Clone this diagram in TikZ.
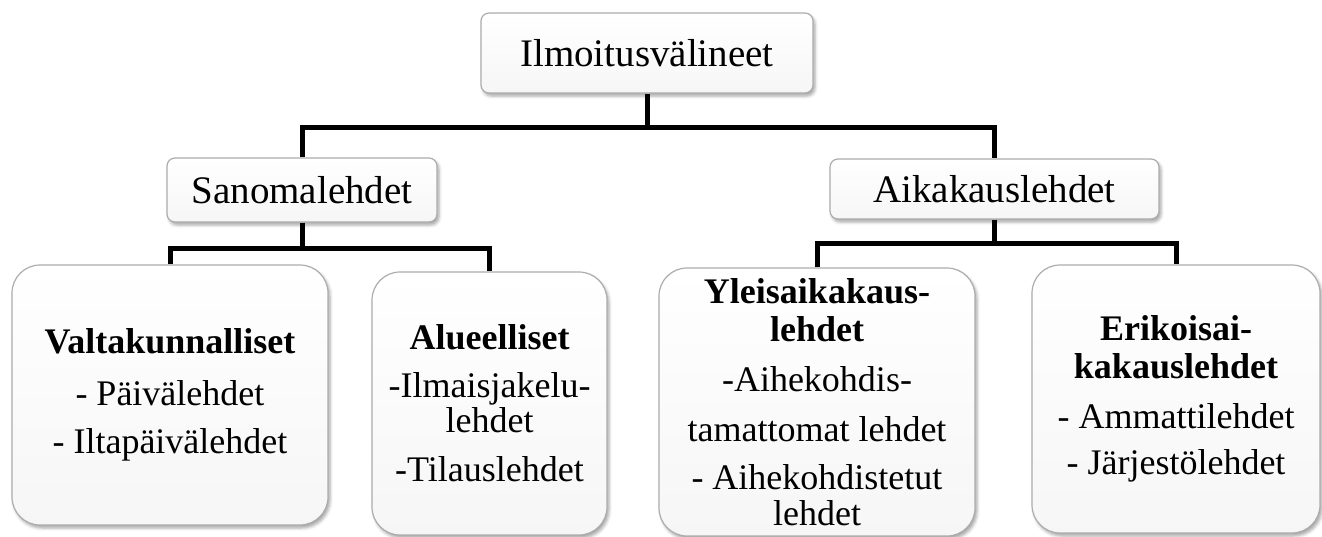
\documentclass[tikz,border=0pt]{standalone}
\usepackage{fontspec}
\setmainfont{Liberation Serif}
\usetikzlibrary{shadows.blur}
\begin{document}
\begin{tikzpicture}[x=1pt,y=-1pt,
  box/.style={draw=gray!65, line width=1.2pt, top color=white, bottom color=gray!7,
    blur shadow={shadow xshift=2pt, shadow yshift=-3pt, shadow blur radius=3pt, shadow opacity=35},
    inner sep=0pt, align=center},
  headbox/.style={box, rounded corners=8pt, font=\fontsize{39}{44}\selectfont},
  leafbox/.style={box, rounded corners=28pt, font=\fontsize{36}{38}\selectfont},
  link/.style={line width=5pt, line join=miter, draw=black}]
\useasboundingbox (0,0) rectangle (1322,536);

% first and second level
\node[headbox, minimum width=332pt, minimum height=80pt] (top) at (647,53) {Ilmoitusvälineet};
\node[headbox, minimum width=270pt, minimum height=64pt] (sano) at (302,190) {Sanomalehdet};
\node[headbox, minimum width=329pt, minimum height=60pt] (aika) at (994.5,189) {Aikakauslehdet};

% leaves
\node[leafbox, minimum width=316pt, minimum height=260pt] (valt) at (170,395)
  {\textbf{Valtakunnalliset}\\[14pt] - Päivälehdet\\[10pt] - Iltapäivälehdet};
\node[leafbox, minimum width=235pt, minimum height=263pt] (alue) at (489.5,403.5)
  {\textbf{Alueelliset}\\[10pt] -Ilmaisjakelu-\\[-3pt] lehdet\\[11pt] -Tilauslehdet};
\node[leafbox, minimum width=316pt, minimum height=268pt] (yleis) at (817,402)
  {\textbf{Yleisaikakaus-}\\ \textbf{lehdet}\\[12pt] -Aihekohdis-\\[12pt] tamattomat lehdet\\[10pt] - Aihekohdistetut\\[-2pt] lehdet};
\node[leafbox, minimum width=288pt, minimum height=268pt] (erik) at (1176,399)
  {\textbf{Erikoisai-}\\ \textbf{kakauslehdet}\\[12pt] - Ammattilehdet\\[8pt] - Järjestölehdet};

% junction points of the tree lines
\coordinate (j0) at (647,127);
\coordinate (j1) at (302,248);
\coordinate (j2) at (994.5,243);

% connectors
\draw[link] (top.south) -- (j0);
\draw[link] (sano.north) -- (sano.north |- j0) -- (aika.north |- j0) -- (aika.north);
\draw[link] (sano.south) -- (j1);
\draw[link] (valt.north) -- (valt.north |- j1) -- (alue.north |- j1) -- (alue.north);
\draw[link] (aika.south) -- (j2);
\draw[link] (yleis.north) -- (yleis.north |- j2) -- (erik.north |- j2) -- (erik.north);
\end{tikzpicture}
\end{document}
